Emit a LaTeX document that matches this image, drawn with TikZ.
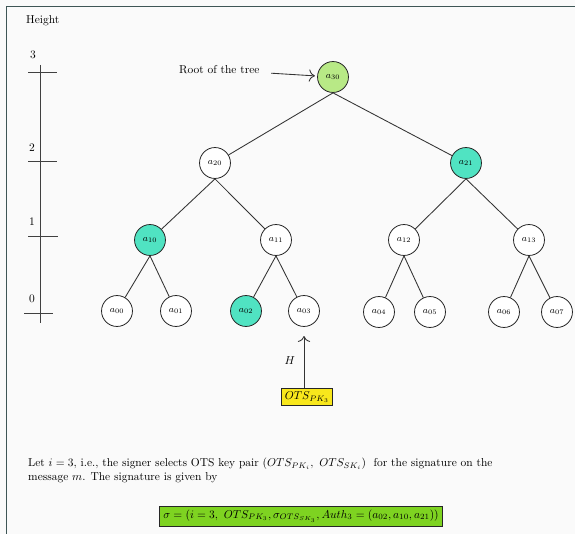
\documentclass[tikz,border=0pt]{standalone}
\usepackage{amsmath}
\usepackage{amssymb}
\usepackage{xcolor}
\usepackage{tikz}
\usetikzlibrary{arrows.meta}

\definecolor{rootgreen}{HTML}{B8E986}
\definecolor{authteal}{HTML}{50E3C2}
\definecolor{otsyellow}{HTML}{F8E71C}
\definecolor{siggreen}{HTML}{7ED321}
\definecolor{framegray}{HTML}{3E5656}

\begin{document}
\begin{tikzpicture}[x=0.873pt,y=-0.873pt,>={To[length=1.8mm]},
  treenode/.style={circle,draw=black!85,line width=0.7pt,fill=white,inner sep=0pt,minimum size=27pt,font=\footnotesize},
  edge/.style={draw=black!80,line width=0.75pt},
  tick/.style={draw=black!75,line width=0.7pt},
  mathbox/.style={rectangle,draw=black!85,line width=0.7pt,inner sep=3pt}]
  % page and frame
  \fill[black!2] (0,0) rectangle (575,534);
  \useasboundingbox (0,0) rectangle (575,534);
  \draw[framegray,line width=1.2pt] (6.5,534) -- (6.5,6.5) -- (575,6.5);

  % height scale
  \node[anchor=west,inner sep=0pt] (height) at (26,21) {Height};
  \coordinate (axtop) at (40.5,65);
  \coordinate (axbot) at (40.5,323);
  \draw[tick] (axtop) -- (axbot);
  \coordinate (t3a) at (28,72);  \coordinate (t3b) at (57,72);
  \coordinate (t2a) at (28,161); \coordinate (t2b) at (57,161);
  \coordinate (t1a) at (28,236); \coordinate (t1b) at (58,236);
  \coordinate (t0a) at (24,313); \coordinate (t0b) at (53,313);
  \draw[tick] (t3a) -- (t3b);
  \draw[tick] (t2a) -- (t2b);
  \draw[tick] (t1a) -- (t1b);
  \draw[tick] (t0a) -- (t0b);
  \node[inner sep=0pt] (h3) at (33,55) {3};
  \node[inner sep=0pt] (h2) at (32,148) {2};
  \node[inner sep=0pt] (h1) at (32,222) {1};
  \node[inner sep=0pt] (h0) at (32,299) {0};

  % tree
  \node[treenode,fill=rootgreen] (a30) at (333,77) {$a_{30}$};
  \node[treenode] (a20) at (215,163) {$a_{20}$};
  \node[treenode,fill=authteal] (a21) at (466,163) {$a_{21}$};
  \node[treenode,fill=authteal] (a10) at (150,240) {$a_{10}$};
  \node[treenode] (a11) at (276,240) {$a_{11}$};
  \node[treenode] (a12) at (404,240) {$a_{12}$};
  \node[treenode] (a13) at (529,240) {$a_{13}$};
  \node[treenode] (a00) at (117,311) {$a_{00}$};
  \node[treenode] (a01) at (176,311) {$a_{01}$};
  \node[treenode,fill=authteal] (a02) at (246,311) {$a_{02}$};
  \node[treenode] (a03) at (304,311) {$a_{03}$};
  \node[treenode] (a04) at (379,312) {$a_{04}$};
  \node[treenode] (a05) at (430,312) {$a_{05}$};
  \node[treenode] (a06) at (504,312) {$a_{06}$};
  \node[treenode] (a07) at (557,312) {$a_{07}$};
  \draw[edge] (a30.south) -- (a20);
  \draw[edge] (a30.south) -- (a21);
  \draw[edge] (a20.south) -- (a10);
  \draw[edge] (a20.south) -- (a11);
  \draw[edge] (a21.south) -- (a12);
  \draw[edge] (a21.south) -- (a13);
  \draw[edge] (a10.south) -- (a00);
  \draw[edge] (a10.south) -- (a01);
  \draw[edge] (a11.south) -- (a02);
  \draw[edge] (a11.south) -- (a03);
  \draw[edge] (a12.south) -- (a04);
  \draw[edge] (a12.south) -- (a05);
  \draw[edge] (a13.south) -- (a06);
  \draw[edge] (a13.south) -- (a07);

  % root label
  \node[anchor=east,inner sep=2pt] (rootlbl) at (262,70) {Root of the tree};
  \draw[edge,->,shorten <=8pt,shorten >=2pt] (rootlbl) -- (a30);

  % leaf key
  \node[mathbox,fill=otsyellow] (otspk) at (307,397) {$OTS_{PK_3}$};
  \draw[edge,->,shorten >=8pt] (otspk.north -| a03) -- node[left=4pt,pos=0.45] {$H$} (a03.south);

  % signature text
  \node[anchor=north west,align=left,inner sep=0pt] (sigtext) at (28,458)
    {Let $i=3$, i.e., the signer selects OTS key pair $(OTS_{PK_i},\ OTS_{SK_i})$\ \ for the signature on the\\
     message $m$. The signature is given by};
  \node[mathbox,fill=siggreen] (sigma) at (301,516)
    {$\sigma = (i=3,\ OTS_{PK_3}, \sigma_{OTS_{SK_3}}, Auth_3 = (a_{02}, a_{10}, a_{21}))$};
\end{tikzpicture}
\end{document}
